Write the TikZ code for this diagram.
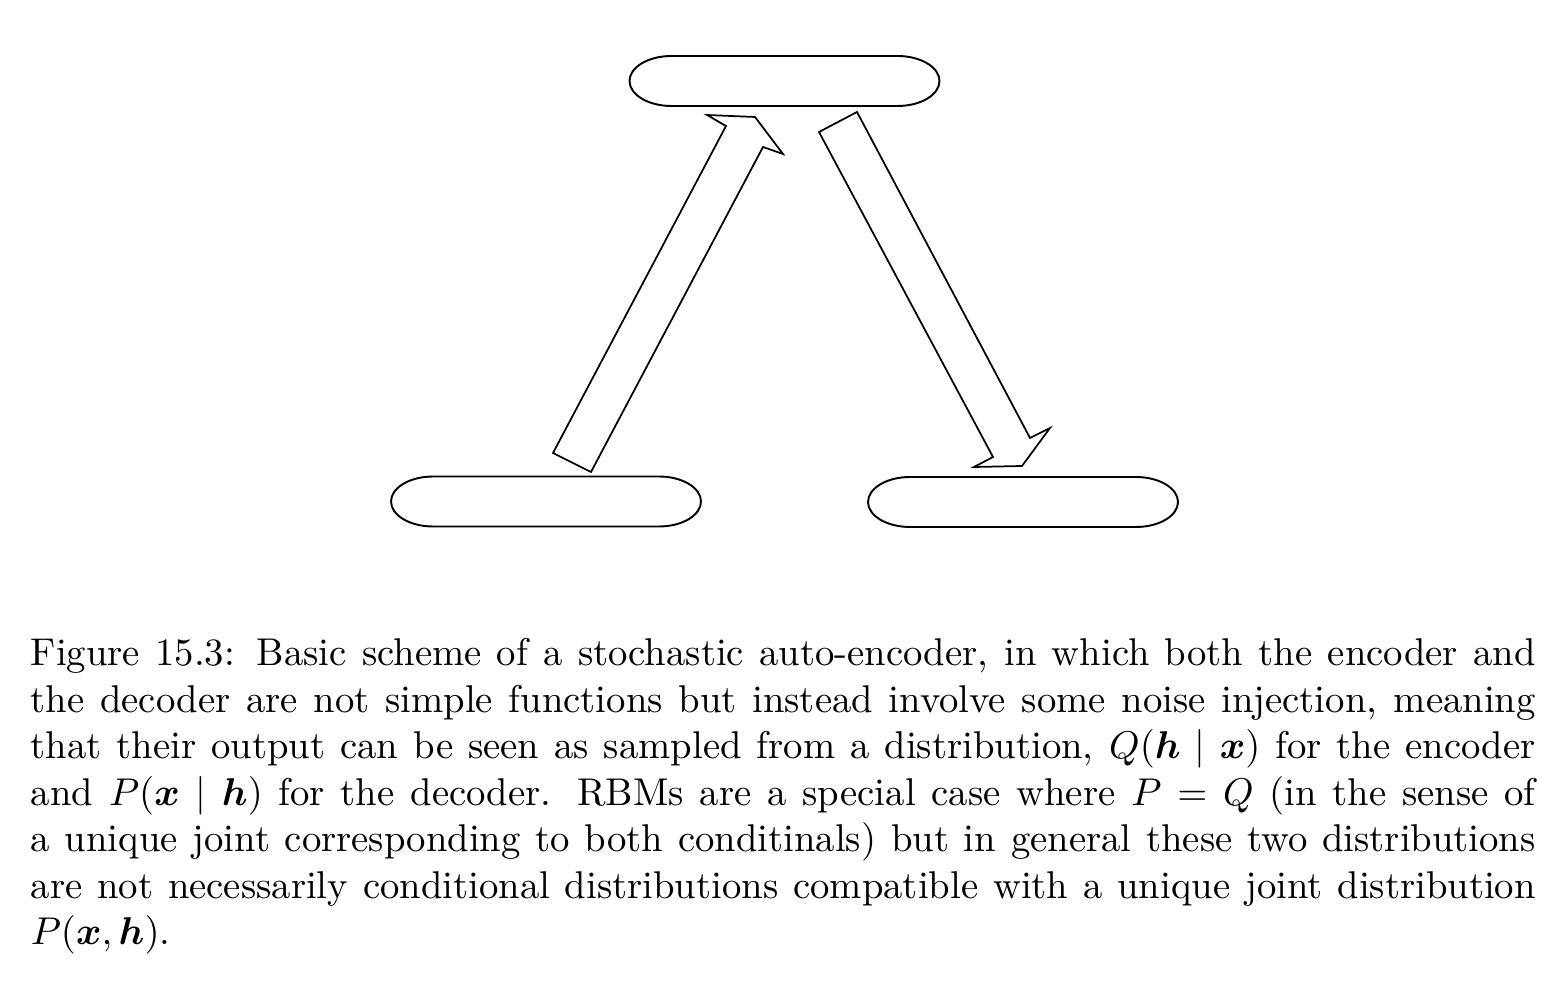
\documentclass[tikz,border=0pt]{standalone}
\usepackage{amsmath}
\usepackage{bm}
\begin{document}
\begin{tikzpicture}[x=0.2584pt,y=-0.2584pt,line join=miter]
\useasboundingbox (0,0) rectangle (1568,992);
\tikzset{
  unitslot/.style={draw=none, inner sep=0pt, minimum width=80.4pt, minimum height=13pt},
  slotline/.style={draw=black, line width=0.5pt},
  blockarrow/.style={draw=black, line width=0.45pt},
  captiontext/.style={anchor=base west, inner sep=0pt, align=left}
}
% units (stadium shapes)
\node[unitslot] (hid) at (784.5,81) {};
\node[unitslot] (xin) at (546,501.5) {};
\node[unitslot] (xout) at (1023,502) {};
\foreach \n in {hid,xin,xout}{
  \draw[slotline, shift={(\n.center)}] (-113,-25) -- (113,-25)
    arc[start angle=90, end angle=-90, x radius=10.85pt, y radius=6.46pt]
    -- (-113,25)
    arc[start angle=270, end angle=90, x radius=10.85pt, y radius=6.46pt]
    -- cycle;
}
% encoder arrow (up)
\draw[blockarrow] (553,453) -- (726,126) -- (707,115) -- (755,117) -- (783,154) -- (763,147) -- (591,472) -- cycle;
% decoder arrow (down)
\draw[blockarrow] (819,132) -- (857,112) -- (1030,438) -- (1050,428) -- (1022,466) -- (974,467) -- (993,457) -- cycle;
% caption
\node[captiontext] (cap) at (30,666) {\vtop{\hsize=388.9pt\noindent
Figure 15.3: Basic scheme of a stochastic auto-encoder, in which both the encoder and\linebreak
the decoder are not simple functions but instead involve some noise injection, meaning\linebreak
that their output can be seen as sampled from a distribution, $Q(\bm{h}\mid\bm{x})$ for the encoder\linebreak
and $P(\bm{x}\mid\bm{h})$ for the decoder.  RBMs are a special case where $P=Q$ (in the sense of\linebreak
a unique joint corresponding to both conditinals) but in general these two distributions\linebreak
are not necessarily conditional distributions compatible with a unique joint distribution\linebreak
$P(\bm{x},\bm{h})$.}};
\end{tikzpicture}
\end{document}
